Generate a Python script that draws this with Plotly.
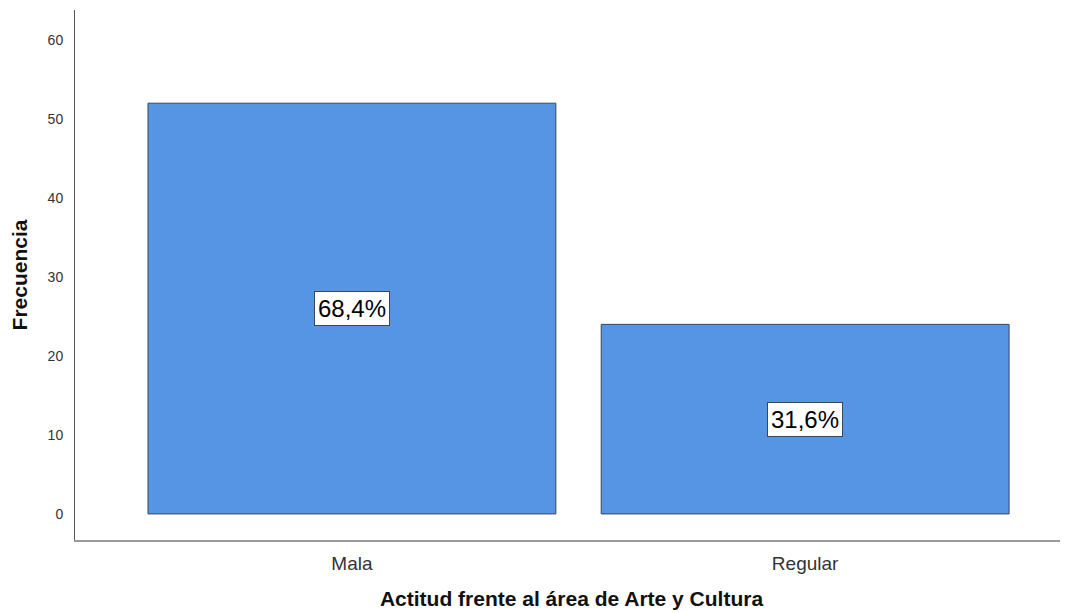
import plotly.graph_objects as go

categories = ["Mala", "Regular"]
frecuencias = [52, 24]
porcentajes = ["68,4%", "31,6%"]
y_ticks = [0, 10, 20, 30, 40, 50, 60]

fig = go.Figure()
fig.add_trace(go.Bar(
    x=[0, 1], y=frecuencias, width=0.9,
    marker=dict(color="#5595E3", line=dict(color="#3B4656", width=1)),
    hoverinfo="skip",
))

for i, (v, p) in enumerate(zip(frecuencias, porcentajes)):
    fig.add_annotation(
        x=i, y=v / 2, text=p, showarrow=False,
        font=dict(family="Liberation Sans, Arial", size=24, color="#000"),
        bgcolor="white", bordercolor="#3B4656", borderwidth=1, borderpad=3,
    )

# page body adds an 8px offset; margins compensate
fig.update_layout(
    width=1060, height=605,
    margin=dict(l=67, r=0, t=2, b=73),
    plot_bgcolor="white", paper_bgcolor="white",
    showlegend=False,
    font=dict(family="Liberation Sans, Arial", color="#222"),
    xaxis=dict(
        range=[-0.611, 1.58], tickmode="array", tickvals=[0, 1], ticktext=categories,
        showline=True, linecolor="#9A9A9A", linewidth=2, showgrid=False, zeroline=False,
        ticks="", tickfont=dict(size=19, color="#333"), ticklabelstandoff=5,
        automargin=False,
        title=dict(text="<b>Actitud frente al área de Arte y Cultura</b>",
                   font=dict(size=21, color="#111"), standoff=19),
    ),
    yaxis=dict(
        range=[-3.3, 63.8], tickmode="array", tickvals=y_ticks,
        showline=True, linecolor="#555", linewidth=1, showgrid=False, zeroline=False,
        ticks="", tickfont=dict(size=14, color="#333"), ticklabelstandoff=8,
        automargin=False,
        title=dict(text="<b>Frecuencia</b>", font=dict(size=21, color="#111"), standoff=17),
    ),
)

fig.write_html("out.html")
